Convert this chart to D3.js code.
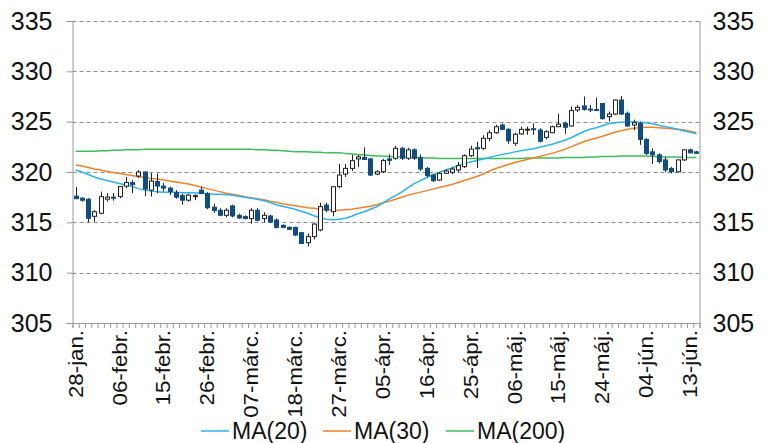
<!DOCTYPE html>
<html lang="hu">
<head>
<meta charset="UTF-8">
<title>Árfolyam és mozgóátlagok</title>
<script src="https://cdn.jsdelivr.net/npm/d3@7"></script>
<style>
    body { margin: 0; background: #fff; }
    svg { display: block; font-family: "Liberation Sans", Arial, sans-serif; }
</style>
</head>
<body>
<script>
'use strict';
// napi árfolyamok (28-jan. .. 14-jún.)
var opens = [317.6,317.4,317.3,315.6,315.9,317.3,317.5,317.55,318.6,318.95,
    319.6,320.0,318.2,319.05,318.6,318.4,317.95,317.65,317.2,317.55,
    318.2,317.87,316.5,316.2,315.7,316.63,315.7,315.57,315.37,316.2,
    315.37,315.63,315.23,314.7,314.5,314.5,313.97,312.98,313.58,314.24,
    316.72,316.06,318.54,319.8,320.36,321.3,321.45,321.3,319.8,320.03,
    321.3,321.36,322.35,321.36,322.2,321.42,320.36,319.7,319.2,319.87,
    319.97,320.2,320.53,321.62,322.42,322.35,323.34,323.9,324.67,324.24,
    322.85,323.78,324.2,324.3,324.17,323.44,323.9,324.5,324.83,324.57,
    326.16,326.56,326.25,326.2,326.8,325.5,325.76,327.15,325.83,324.67,
    324.83,323.24,322.0,321.7,321.2,320.36,320.03,321.2,322.2,322.0];
var highs = [318.5,317.5,317.4,316.2,318.05,317.9,317.9,318.6,319.5,319.2,
    320.2,320.05,319.9,319.85,318.9,318.55,318.2,317.85,317.85,317.8,
    318.55,318.0,316.85,316.4,316.4,316.75,315.85,315.7,316.4,316.4,
    316.0,315.75,315.4,314.8,314.6,314.55,314.05,313.9,314.9,316.96,
    316.96,318.54,320.8,320.8,321.7,321.7,322.45,321.4,320.2,321.3,
    321.75,322.6,322.5,322.4,322.35,321.75,320.5,319.8,320.0,320.27,
    320.5,321.0,321.75,322.6,323.0,323.65,324.15,324.7,324.83,324.35,
    323.9,324.5,324.5,324.83,324.35,324.15,324.6,325.8,325.0,326.5,
    326.65,327.5,326.65,327.4,326.8,326.0,327.2,327.55,326.0,325.2,
    325.0,323.35,322.35,321.85,321.5,320.5,321.27,322.27,322.32,322.1];
var lows = [317.3,317.05,315.0,315.05,315.8,317.05,317.15,317.4,318.4,317.9,
    319.4,317.6,317.55,317.9,318.05,317.7,317.35,316.75,317.05,317.2,
    317.8,316.3,315.95,315.6,315.5,315.5,315.35,315.3,314.87,315.1,
    315.0,314.95,314.4,314.45,314.25,313.65,312.85,312.6,313.3,314.1,
    316.0,315.6,318.4,319.5,320.1,320.5,321.2,319.6,319.7,319.9,
    320.7,321.2,321.2,321.2,321.2,320.1,319.5,319.0,319.1,319.8,
    319.8,320.0,320.4,321.5,320.4,322.2,323.05,323.8,324.2,322.8,
    322.6,323.7,323.7,323.7,322.95,323.25,323.85,324.5,323.8,324.5,
    325.95,326.1,325.95,326.15,325.2,325.0,325.65,325.65,324.5,324.15,
    322.7,321.7,320.8,320.85,320.0,319.85,319.95,321.1,321.85,321.8];
var closes = [317.35,317.2,315.4,316.05,317.55,317.5,317.4,318.55,318.95,318.75,
    320.0,318.3,319.1,318.6,318.4,318.05,317.5,317.2,317.7,317.65,
    317.87,316.45,316.17,315.7,316.2,315.63,315.43,315.37,316.2,315.2,
    315.7,315.03,314.5,314.5,314.3,313.74,312.9,313.58,314.83,316.56,
    316.22,318.54,319.7,320.36,321.13,321.5,321.25,319.7,320.03,321.15,
    321.16,322.35,321.36,322.2,321.36,320.3,319.64,319.14,319.87,320.1,
    320.3,320.63,321.62,322.28,322.3,323.35,323.9,324.5,324.24,323.1,
    323.75,324.24,324.25,324.2,323.05,324.0,324.5,324.75,324.44,326.1,
    326.42,326.22,326.2,326.18,325.3,325.76,327.15,325.76,324.57,324.9,
    323.24,321.85,321.7,321.03,320.2,320.03,321.2,322.2,321.9,321.86];

// mozgóátlagok
var ma20 = [320.2,320.0,319.75,319.5,319.3,319.15,319.0,318.85,318.7,318.55,
    318.35,318.2,318.1,318.05,318.0,318.0,318.0,317.95,317.95,317.95,
    317.9,317.85,317.8,317.8,317.75,317.7,317.6,317.5,317.4,317.3,
    317.15,317.0,316.75,316.6,316.45,316.3,316.1,315.9,315.65,315.45,
    315.3,315.25,315.3,315.4,315.6,315.85,316.05,316.3,316.55,316.9,
    317.3,317.65,318.0,318.45,318.85,319.15,319.45,319.7,319.95,320.2,
    320.4,320.65,320.85,321.0,321.15,321.3,321.45,321.6,321.75,321.85,
    322.0,322.1,322.2,322.3,322.45,322.6,322.75,322.95,323.15,323.4,
    323.7,324.0,324.25,324.4,324.6,324.8,324.9,324.95,325.0,325.0,
    324.95,324.9,324.8,324.65,324.5,324.4,324.25,324.1,323.95,323.8];
var ma30 = [320.7,320.6,320.45,320.3,320.2,320.05,319.95,319.85,319.75,319.65,
    319.55,319.45,319.35,319.3,319.2,319.1,319.0,318.9,318.8,318.65,
    318.5,318.35,318.2,318.05,317.9,317.8,317.7,317.55,317.45,317.35,
    317.25,317.1,317.0,316.85,316.75,316.65,316.55,316.45,316.4,316.3,
    316.25,316.2,316.2,316.25,316.3,316.4,316.5,316.6,316.75,316.95,
    317.1,317.3,317.5,317.7,317.85,318.0,318.15,318.3,318.45,318.6,
    318.75,318.95,319.15,319.35,319.55,319.8,320.1,320.35,320.55,320.75,
    320.95,321.1,321.25,321.4,321.55,321.7,321.85,322.05,322.25,322.5,
    322.75,323.0,323.2,323.35,323.55,323.75,323.95,324.1,324.25,324.35,
    324.4,324.45,324.45,324.4,324.35,324.3,324.25,324.2,324.05,323.9];
var ma200 = [322.05,322.05,322.05,322.05,322.1,322.1,322.15,322.15,322.2,322.2,
    322.2,322.25,322.25,322.25,322.25,322.25,322.25,322.25,322.25,322.25,
    322.25,322.25,322.25,322.25,322.25,322.25,322.25,322.25,322.25,322.2,
    322.2,322.15,322.15,322.1,322.05,322.0,322.0,322.0,321.95,321.95,
    321.9,321.9,321.9,321.85,321.8,321.75,321.7,321.65,321.6,321.6,
    321.55,321.55,321.5,321.5,321.45,321.45,321.4,321.4,321.35,321.35,
    321.35,321.35,321.35,321.35,321.35,321.35,321.35,321.35,321.35,321.35,
    321.35,321.35,321.4,321.4,321.4,321.4,321.4,321.4,321.45,321.45,
    321.45,321.45,321.5,321.5,321.55,321.55,321.55,321.6,321.6,321.6,
    321.6,321.6,321.55,321.55,321.5,321.5,321.5,321.45,321.45,321.45];

// tengelyfeliratok (minden 7. kereskedési nap)
var tickLabels = ['28-jan.','06-febr.','15-febr.','26-febr.','07-márc.','18-márc.','27-márc.',
    '05-ápr.','16-ápr.','25-ápr.','06-máj.','15-máj.','24-máj.','04-jún.','13-jún.'];
var labelStep = 7;
var yTicks = [305,310,315,320,325,330,335];
var series = [
    {name: 'MA(20)', values: ma20, color: '#2BB3EC'},
    {name: 'MA(30)', values: ma30, color: '#F28228'},
    {name: 'MA(200)', values: ma200, color: '#3DBE5C'}
];

var W = 770, H = 443,
    plotLeft = 72.5, plotRight = 699.5, plotTop = 21, plotBottom = 323;

var svg = d3.select('body').append('svg')
    .attr('width', W)
    .attr('height', H);

var x = d3.scaleBand().domain(d3.range(opens.length)).range([plotLeft, plotRight]);
var xl = d3.scaleLinear().domain([0, opens.length]).range([plotLeft, plotRight]);
var y = d3.scaleLinear().domain([305, 335]).range([plotBottom, plotTop]);

// rács
svg.append('g').selectAll('line')
    .data(yTicks.filter(function(d) { return d > 305; }))
    .enter().append('line')
    .attr('x1', plotLeft).attr('x2', plotRight)
    .attr('y1', function(d) { return Math.round(y(d)) + 0.5; })
    .attr('y2', function(d) { return Math.round(y(d)) + 0.5; })
    .attr('stroke', '#8c8c8c')
    .attr('stroke-dasharray', '4,3');

// bal tengely
var gl = svg.append('g')
    .attr('transform', 'translate(' + plotLeft + ',0)')
    .call(d3.axisLeft(y).tickValues(yTicks).tickSize(6).tickPadding(14).tickFormat(d3.format('d')));
gl.select('.domain').attr('stroke', '#9a9a9a');
gl.selectAll('.tick line').attr('stroke', '#9a9a9a');
gl.selectAll('text').attr('font-size', '25px').attr('fill', '#111')
    .attr('font-family', '"Liberation Sans", Arial, sans-serif');

// jobb tengely
var gr = svg.append('g')
    .attr('transform', 'translate(' + plotRight + ',0)')
    .call(d3.axisRight(y).tickValues(yTicks).tickSize(0).tickPadding(13).tickFormat(d3.format('d')));
gr.select('.domain').attr('stroke', '#9a9a9a');
gr.selectAll('text').attr('font-size', '25px').attr('fill', '#111')
    .attr('font-family', '"Liberation Sans", Arial, sans-serif');

// alsó tengely, napi osztásokkal
var gb = svg.append('g')
    .attr('transform', 'translate(0,' + plotBottom + ')')
    .call(d3.axisBottom(xl).tickValues(d3.range(opens.length + 1)).tickSize(5).tickFormat(''));
gb.select('.domain').attr('stroke', '#9a9a9a');
gb.selectAll('.tick line').attr('stroke', '#9a9a9a');

svg.append('g').selectAll('text')
    .data(tickLabels)
    .enter().append('text')
    .attr('transform', function(d, i) {
        var cx = x(i * labelStep) + x.bandwidth() / 2 + 7;
        return 'translate(' + cx + ',' + (plotBottom + 7) + ') rotate(-90) scale(1.06,1)';
    })
    .attr('text-anchor', 'end')
    .attr('font-size', '21px')
    .attr('fill', '#111')
    .text(function(d) { return d; });

// mozgóátlagok
var line = d3.line()
    .x(function(d, i) { return x(i) + x.bandwidth() / 2; })
    .y(function(d) { return y(d); });

svg.append('g').selectAll('path')
    .data(series.slice().reverse())
    .enter().append('path')
    .attr('d', function(s) { return line(s.values); })
    .attr('fill', 'none')
    .attr('stroke', function(s) { return s.color; })
    .attr('stroke-width', 1.5);

// gyertyák
var bw = 4;
var candles = svg.append('g').selectAll('g')
    .data(d3.range(opens.length))
    .enter().append('g');

candles.append('line')
    .attr('x1', function(i) { return Math.round(x(i) + x.bandwidth() / 2) + 0.5; })
    .attr('x2', function(i) { return Math.round(x(i) + x.bandwidth() / 2) + 0.5; })
    .attr('y1', function(i) { return y(highs[i]); })
    .attr('y2', function(i) { return y(lows[i]); })
    .attr('stroke', '#222')
    .attr('stroke-width', 1);

candles.append('rect')
    .attr('x', function(i) { return Math.round(x(i) + x.bandwidth() / 2) - bw / 2 + 0.5; })
    .attr('width', bw)
    .attr('y', function(i) { return y(Math.max(opens[i], closes[i])); })
    .attr('height', function(i) { return Math.max(1, Math.abs(y(opens[i]) - y(closes[i]))); })
    .attr('fill', function(i) { return closes[i] >= opens[i] ? '#fff' : '#0D4E88'; })
    .attr('stroke', function(i) { return closes[i] >= opens[i] ? '#222' : '#0D4E88'; })
    .attr('stroke-width', 1);

// jelmagyarázat
var legendX = [201, 323, 446];
var lg = svg.append('g').selectAll('g')
    .data(series)
    .enter().append('g')
    .attr('transform', function(d, i) { return 'translate(' + legendX[i] + ',431)'; });
lg.append('line')
    .attr('x1', 0).attr('x2', 28)
    .attr('stroke', function(d) { return d.color; })
    .attr('stroke-width', 1.5);
lg.append('text')
    .attr('x', 31)
    .attr('dy', '0.35em')
    .attr('font-size', '23px')
    .attr('fill', '#111')
    .text(function(d) { return d.name; });
</script>
</body>
</html>
